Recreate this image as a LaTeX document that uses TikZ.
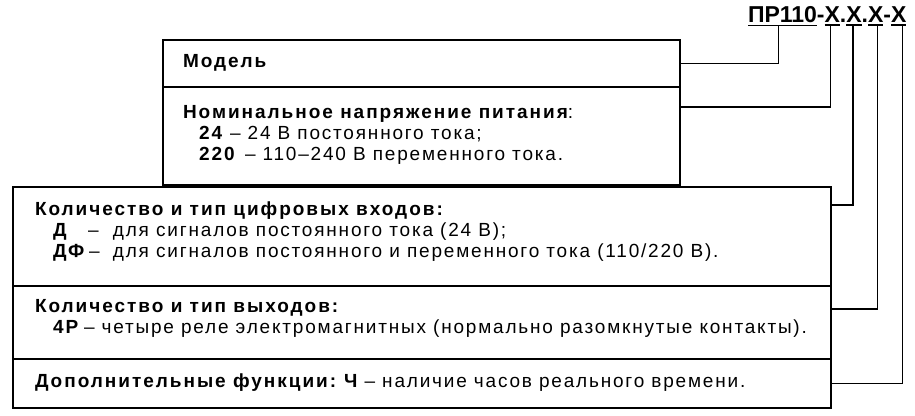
\documentclass[tikz,border=0pt]{standalone}
\usepackage{fontspec}
\setmainfont{Liberation Sans}
\newfontfamily\regfont[LetterSpace=9.5]{Liberation Sans}
\newfontfamily\boldfont[LetterSpace=10.4]{Liberation Sans Bold}
\newfontfamily\titlefont{Liberation Sans Bold}
\usetikzlibrary{calc}
\tikzset{
  secbox/.style={draw=black, line width=1.2pt, rectangle, inner sep=0pt, outer sep=0pt, anchor=north west},
  txt/.style={anchor=base west, inner sep=0pt, outer sep=0pt, font=\regfont\fontsize{19}{22}\selectfont},
  ttl/.style={anchor=base west, inner sep=0pt, outer sep=0pt, font=\titlefont\fontsize{23}{27}\selectfont},
  conn/.style={draw=black, line width=1.2pt},
  uline/.style={draw=black, line width=1.4pt}
}
\newcommand{\bft}[1]{{\boldfont #1}}
\begin{document}
\begin{tikzpicture}[x=1pt,y=-1pt]
\useasboundingbox (0,0) rectangle (915,415);
% sections
\node[secbox, minimum width=517pt, minimum height=47pt] (s1) at (163,40) {};
\node[secbox, minimum width=517pt, minimum height=98pt] (s2) at (163,87) {};
\node[secbox, minimum width=818pt, minimum height=99pt] (s3) at (13,187) {};
\node[secbox, minimum width=818pt, minimum height=73pt] (s4) at (13,286) {};
\node[secbox, minimum width=818pt, minimum height=49pt] (s5) at (13,359) {};
% texts top box
\node[txt] (l1) at (183,67) {\bft{Модель}};
\node[txt] (l2) at (183,118) {\bft{Номинальное напряжение питания}:};
\node[txt] (l3) at (199,139) {\makebox[31pt][l]{\bft{24}}– 24 В постоянного тока;};
\node[txt] (l4) at (199,160) {\makebox[46pt][l]{\bft{220}}– 110–240 В переменного тока.};
% texts bottom box
\node[txt] (l5) at (35,215) {\bft{Количество и тип цифровых входов:}};
\node[txt] (l6) at (53,236) {\makebox[35pt][l]{\bft{Д}}\makebox[25pt][l]{–}для сигналов постоянного тока (24 В);};
\node[txt] (l7) at (53,257) {\makebox[36pt][l]{\bft{ДФ}}\makebox[24pt][l]{–}для сигналов постоянного и переменного тока (110/220 В).};
\node[txt] (l8) at (35,312) {\bft{Количество и тип выходов:}};
\node[txt] (l9) at (53,333) {\makebox[31pt][l]{\bft{4Р}}– четыре реле электромагнитных (нормально разомкнутые контакты).};
\node[txt] (l10) at (35,387) {\bft{Дополнительные функции:}\hspace{8pt}\bft{Ч} – наличие часов реального времени.};
% title
\node[ttl] (t0) at (748,23) {ПР110};
\node[ttl] (d1) at (t0.base east) {-};
\node[ttl] (x1) at (d1.base east) {Х};
\node[ttl] (d2) at (x1.base east) {.};
\node[ttl] (x2) at (d2.base east) {Х};
\node[ttl] (d3) at (x2.base east) {.};
\node[ttl] (x3) at (d3.base east) {Х};
\node[ttl] (d4) at (x3.base east) {-};
\node[ttl] (x4) at (d4.base east) {Х};
\foreach \n in {t0,x1,x2,x3,x4}
  \draw[uline] ([yshift=-2pt]\n.south west) -- ([yshift=-2pt]\n.south east);
% connector end points
\coordinate (c1) at (s1.east);
\coordinate (c2) at ($(s2.north east)+(0,20)$);
\coordinate (c3) at ($(s3.north east)+(0,18)$);
\coordinate (c4) at ($(s4.north east)+(0,23)$);
\coordinate (c5) at (s5.east);
\draw[conn] ([xshift=-4pt,yshift=-2pt]t0.south) |- (c1);
\draw[conn] ([xshift=-2pt,yshift=-2pt]x1.south) |- (c2);
\draw[conn] ([xshift=-1pt,yshift=-2pt]x2.south) |- (c3);
\draw[conn] ([xshift=2pt,yshift=-2pt]x3.south) |- (c4);
\draw[conn] ([xshift=4pt,yshift=-2pt]x4.south) |- (c5);
\end{tikzpicture}
\end{document}
